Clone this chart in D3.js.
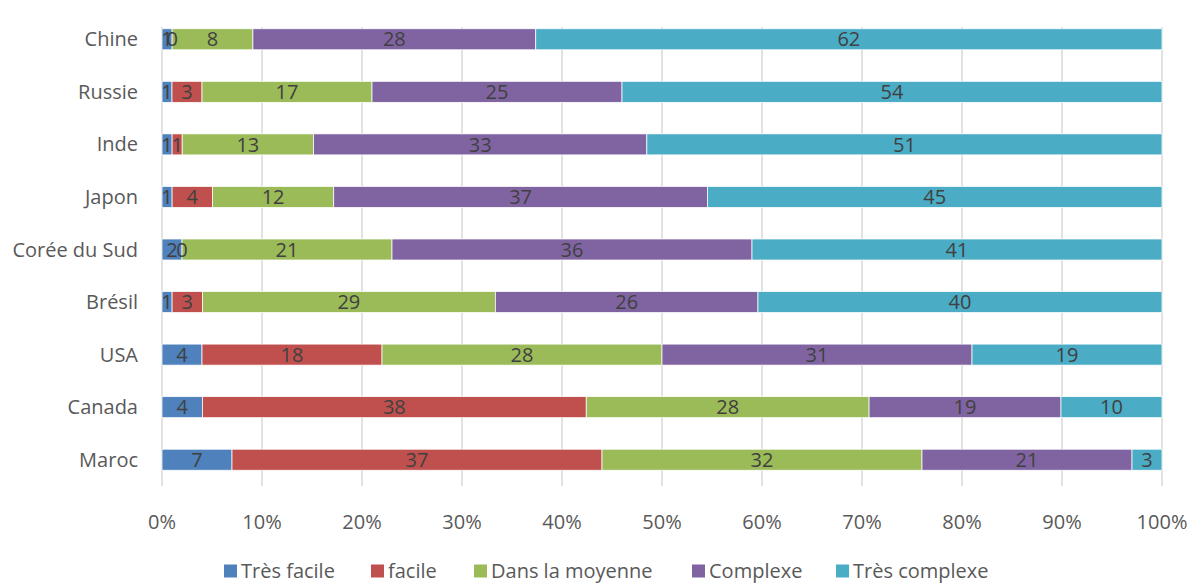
<!DOCTYPE html>
<html>
<head>
<meta charset="utf-8">
<script src="https://cdn.jsdelivr.net/npm/d3@7"></script>
<style>
  body { margin: 0; background: #fff; }
  text { font-family: "Open Sans", "Noto Sans", sans-serif; }
</style>
</head>
<body>
<div id="chart"></div>
<script>
const width = 1200;
const height = 583;

const countries = ["Chine", "Russie", "Inde", "Japon", "Corée du Sud", "Brésil", "USA", "Canada", "Maroc"];
const seriesNames = ["Très facile", "facile", "Dans la moyenne", "Complexe", "Très complexe"];
const colors = ["#4F81BD", "#C0504D", "#9BBB59", "#8064A2", "#4BACC6"];

const tresFacile = [1, 1, 1, 1, 2, 1, 4, 4, 7];
const facile = [0, 3, 1, 4, 0, 3, 18, 38, 37];
const moyenne = [8, 17, 13, 12, 21, 29, 28, 28, 32];
const complexe = [28, 25, 33, 37, 36, 26, 31, 19, 21];
const tresComplexe = [62, 54, 51, 45, 41, 40, 19, 10, 3];

const xTicks = [0, 0.1, 0.2, 0.3, 0.4, 0.5, 0.6, 0.7, 0.8, 0.9, 1];

const margin = {top: 13, right: 38, bottom: 97, left: 162};
const fontSize = "20px";

const rows = countries.map((c, i) => {
   const vals = [tresFacile[i], facile[i], moyenne[i], complexe[i], tresComplexe[i]];
   const total = d3.sum(vals);
   const row = {country: c, total: total};
   seriesNames.forEach((s, j) => row[s] = vals[j]);
   return row;
});

const stack = d3.stack()
   .keys(seriesNames)
   .value((d, k) => d[k] / d.total);
const layers = stack(rows);

const svg = d3.select("#chart").append("svg")
   .attr("width", width)
   .attr("height", height);

const x = d3.scaleLinear()
   .domain([0, 1])
   .range([margin.left, width - margin.right]);

const y = d3.scaleBand()
   .domain(countries)
   .range([margin.top, height - margin.bottom])
   .paddingInner(0.6)
   .paddingOuter(0.3);

// gridlines
svg.append("g")
   .selectAll("line")
   .data(xTicks)
   .join("line")
   .attr("x1", d => x(d)).attr("x2", d => x(d))
   .attr("y1", margin.top + 14).attr("y2", height - margin.bottom)
   .attr("stroke", "#d9d9d9")
   .attr("stroke-width", 1.5);

// x tick labels
svg.append("g")
   .selectAll("text")
   .data(xTicks)
   .join("text")
   .attr("x", d => x(d))
   .attr("y", height - margin.bottom + 43)
   .attr("text-anchor", "middle")
   .attr("fill", "#595959")
   .style("font-size", fontSize)
   .text(d => d3.format(".0%")(d));

// category labels
svg.append("g")
   .selectAll("text")
   .data(countries)
   .join("text")
   .attr("x", margin.left - 24)
   .attr("y", d => y(d) + y.bandwidth() / 2)
   .attr("dy", "0.35em")
   .attr("text-anchor", "end")
   .attr("fill", "#595959")
   .style("font-size", fontSize)
   .text(d => d);

// bars
const groups = svg.append("g")
   .selectAll("g")
   .data(layers)
   .join("g")
   .attr("fill", (d, i) => colors[i]);

groups.selectAll("rect")
   .data(d => d)
   .join("rect")
   .attr("x", d => x(d[0]))
   .attr("y", d => y(d.data.country))
   .attr("width", d => x(d[1]) - x(d[0]))
   .attr("height", y.bandwidth())
   .attr("stroke", "#fff")
   .attr("stroke-width", 0.75);

// data labels
const labelGroups = svg.append("g")
   .selectAll("g")
   .data(layers)
   .join("g");

labelGroups.selectAll("text")
   .data(d => d.map(p => ({p: p, key: d.key})))
   .join("text")
   .attr("x", d => x((d.p[0] + d.p[1]) / 2))
   .attr("y", d => y(d.p.data.country) + y.bandwidth() / 2)
   .attr("dy", "0.36em")
   .attr("text-anchor", "middle")
   .attr("fill", "#404040")
   .style("font-size", fontSize)
   .text(d => d.p.data[d.key]);

// legend
const legendX = [224, 371, 474, 692, 836];
const legendY = 571;
const legend = svg.append("g")
   .selectAll("g")
   .data(seriesNames)
   .join("g")
   .attr("transform", (d, i) => `translate(${legendX[i]},${legendY})`);

legend.append("rect")
   .attr("x", 0).attr("y", -6.5)
   .attr("width", 13).attr("height", 13)
   .attr("fill", (d, i) => colors[i]);

legend.append("text")
   .attr("x", 17)
   .attr("dy", "0.35em")
   .attr("fill", "#595959")
   .style("font-size", fontSize)
   .text(d => d);
</script>
</body>
</html>
